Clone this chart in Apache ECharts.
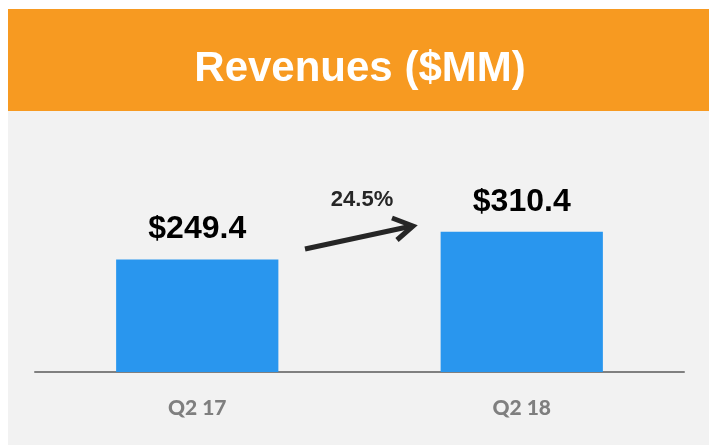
<!DOCTYPE html>
<html>
<head>
<meta charset="utf-8">
<script src="https://cdn.jsdelivr.net/npm/echarts@6/dist/echarts.min.js"></script>
<style>
  html, body { margin: 0; padding: 0; background: #ffffff; }
  #chart { width: 709px; height: 445px; }
</style>
</head>
<body>
<div id="chart"></div>
<script>
const categories = ['Q2 17', 'Q2 18'];
const revenues = [249.4, 310.4];
const titleText = 'Revenues ($MM)';

const growth = ((revenues[1] / revenues[0] - 1) * 100).toFixed(1) + '%';

const chartDom = document.getElementById('chart');
const myChart = echarts.init(chartDom);

const option = {
  backgroundColor: '#ffffff',
  animation: false,
  graphic: [
    // gray panel + orange header band
    { type: 'rect', z: -10, shape: { x: 8, y: 9, width: 701, height: 436 }, style: { fill: '#f2f2f2' } },
    { type: 'rect', z: -9, shape: { x: 8, y: 9, width: 701, height: 102 }, style: { fill: '#f79a21' } },
    {
      type: 'text', z: 5, x: 360, y: 69,
      style: {
        text: titleText, fill: '#ffffff', align: 'center', verticalAlign: 'middle',
        font: 'bold 42px "Liberation Sans", Arial, sans-serif'
      }
    },
    // growth arrow
    { type: 'line', z: 5, shape: { x1: 305, y1: 249, x2: 412, y2: 226 }, style: { stroke: '#262626', lineWidth: 5 } },
    {
      type: 'polyline', z: 5,
      shape: { points: [[392, 218], [413, 226], [397, 240]] },
      style: { stroke: '#262626', lineWidth: 5, fill: null, lineJoin: 'miter' }
    },
    {
      type: 'text', z: 5, x: 362, y: 200,
      style: {
        text: growth, fill: '#262626', align: 'center', verticalAlign: 'middle',
        font: 'bold 22px "Liberation Sans", Arial, sans-serif'
      }
    }
  ],
  grid: { left: 35, right: 25, top: 111, bottom: 73 },
  xAxis: {
    type: 'category',
    data: categories,
    axisLine: { show: true, lineStyle: { color: '#808080', width: 2 } },
    axisTick: { show: false },
    axisLabel: {
      color: '#7f7f7f',
      fontFamily: 'Lato, "Open Sans", sans-serif',
      fontWeight: 900,
      fontSize: 21,
      margin: 26
    }
  },
  yAxis: {
    type: 'value',
    min: 0,
    max: 578,
    show: false,
    splitLine: { show: false }
  },
  series: [
    {
      type: 'bar',
      data: revenues,
      barWidth: '50%',
      itemStyle: { color: '#2996ee' },
      label: {
        show: true,
        position: 'top',
        distance: 14,
        formatter: p => '$' + p.value.toFixed(1),
        color: '#000000',
        fontFamily: '"Liberation Sans", Arial, sans-serif',
        fontWeight: 'bold',
        fontSize: 32
      }
    }
  ]
};

myChart.setOption(option);
window.onresize = myChart.resize;
</script>
</body>
</html>
